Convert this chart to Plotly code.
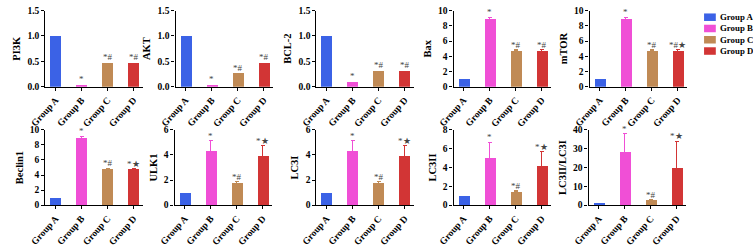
import plotly.graph_objects as go

W, H = 753, 247

groups = ["Group A", "Group B", "Group C", "Group D"]
colors = ["#3b62e6", "#f04fd6", "#c08a55", "#d23535"]

markers = ["PI3K", "AKT", "BCL-2", "Bax", "mTOR",
           "Beclin1", "ULK1", "LC3I", "LC3II", "LC3II/LC3I"]

pi3k = [1.0, 0.05, 0.48, 0.48]
akt = [1.0, 0.05, 0.27, 0.48]
bcl2 = [1.0, 0.10, 0.31, 0.32]
bax = [1.0, 8.9, 4.8, 4.75]
mtor = [1.0, 8.95, 4.8, 4.75]
beclin1 = [1.0, 8.95, 4.8, 4.75]
ulk1 = [1.0, 4.3, 1.78, 3.95]
lc3i = [1.0, 4.3, 1.78, 3.95]
lc3ii = [1.0, 5.0, 1.45, 4.2]
ratio = [1.0, 28.5, 2.5, 19.7]

err_pi3k = [0, 0.01, 0.01, 0.01]
err_akt = [0, 0.01, 0.01, 0.01]
err_bcl2 = [0, 0.01, 0.01, 0.01]
err_bax = [0, 0.2, 0.08, 0.08]
err_mtor = [0, 0.2, 0.08, 0.08]
err_beclin1 = [0, 0.2, 0.08, 0.1]
err_ulk1 = [0, 0.85, 0.1, 0.8]
err_lc3i = [0, 0.85, 0.1, 0.8]
err_lc3ii = [0, 1.7, 0.05, 1.45]
err_ratio = [0, 9.5, 0.3, 14.3]

sig_1 = ["", "*", "*#", "*#"]
sig_mtor = ["", "*", "*#", "*#★"]
sig_2 = ["", "*", "*#", "*★"]

panels = [
    ("PI3K", pi3k, err_pi3k, sig_1, 1.5, 0.5, ".1f"),
    ("AKT", akt, err_akt, sig_1, 1.5, 0.5, ".1f"),
    ("BCL-2", bcl2, err_bcl2, sig_1, 1.5, 0.5, ".1f"),
    ("Bax", bax, err_bax, sig_1, 10, 2, "d"),
    ("mTOR", mtor, err_mtor, sig_mtor, 10, 2, "d"),
    ("Beclin1", beclin1, err_beclin1, sig_2, 10, 2, "d"),
    ("ULK1", ulk1, err_ulk1, sig_2, 6, 2, "d"),
    ("LC3I", lc3i, err_lc3i, sig_2, 6, 2, "d"),
    ("LC3II", lc3ii, err_lc3ii, sig_2, 8, 2, "d"),
    ("LC3II/LC3I", ratio, err_ratio, sig_2, 40, 10, "d"),
]

left_px = [[30, 163, 307, 447, 586], [30, 162, 307, 447, 585]]
row_y = [(6, 87), (133, 213)]
axis_w = 100

FONT = "Liberation Serif"
fig = go.Figure()
layout = {}
annotations = []
shapes = []

for i, (name, vals, errs, sigs, top, dt, fmt) in enumerate(panels):
    r, c = divmod(i, 5)
    k = i + 1
    xa = "x" if k == 1 else f"x{k}"
    ya = "y" if k == 1 else f"y{k}"
    for g in range(4):
        fig.add_trace(go.Bar(
            x=[groups[g]], y=[vals[g]], name=groups[g],
            marker=dict(color=colors[g], line=dict(width=0)),
            width=0.42,
            error_y=dict(type="data", array=[errs[g]], visible=errs[g] > 0.02,
                         color=colors[g], thickness=1, width=2),
            xaxis=xa, yaxis=ya, showlegend=False, hoverinfo="skip",
        ))
        if sigs[g]:
            annotations.append(dict(
                x=groups[g], y=vals[g] + errs[g], xref=xa, yref=ya,
                text=sigs[g], showarrow=False, yanchor="bottom", yshift=-2,
                font=dict(family=FONT, size=9, color="#444"),
            ))
    x0 = left_px[r][c] / W
    x1 = (left_px[r][c] + axis_w) / W
    ytop, ybot = row_y[r]
    layout["xaxis" if k == 1 else f"xaxis{k}"] = dict(
        domain=[x0, x1], anchor=ya, type="category",
        range=[-0.39, 3.37], showline=True, linecolor="black", linewidth=1.3,
        ticks="outside", ticklen=3, tickwidth=1.2, tickcolor="black",
        tickangle=-48, showgrid=False, zeroline=False,
        tickfont=dict(family=FONT, size=9.5, color="black", weight="bold"),
    )
    layout["yaxis" if k == 1 else f"yaxis{k}"] = dict(
        domain=[1 - ybot / H, 1 - ytop / H], anchor=xa,
        range=[0, top], dtick=dt, tick0=0, tickformat=fmt,
        showline=True, linecolor="black", linewidth=1.3,
        ticks="outside", ticklen=3, tickwidth=1.2, tickcolor="black",
        showgrid=False, zeroline=False,
        tickfont=dict(family=FONT, size=9.5, color="black", weight="bold"),
        title=dict(text=name, standoff=4,
                   font=dict(family=FONT, size=10.5, color="black", weight="bold")),
    )

# legend drawn as swatches + labels at the right
leg_x0, leg_y0, leg_dy = 703, 13, 12
for g in range(4):
    cy = leg_y0 + g * leg_dy
    shapes.append(dict(type="rect", xref="paper", yref="paper",
                       x0=leg_x0 / W, x1=(leg_x0 + 12) / W,
                       y0=1 - (cy + 4) / H, y1=1 - (cy - 4) / H,
                       fillcolor=colors[g], line=dict(width=0)))
    annotations.append(dict(x=(leg_x0 + 14) / W, y=1 - cy / H, xref="paper", yref="paper",
                            xanchor="left", yanchor="middle", showarrow=False,
                            text=groups[g],
                            font=dict(family=FONT, size=8.8, color="black", weight="bold")))

fig.update_layout(
    width=W, height=H, margin=dict(l=0, r=0, t=0, b=0),
    paper_bgcolor="white", plot_bgcolor="white",
    barmode="overlay", bargap=0, showlegend=False, hovermode=False,
    annotations=annotations, shapes=shapes,
    **layout,
)

fig.write_html(
    "out.html",
    config={"displayModeBar": False},
    post_script="document.body.style.margin='0';document.body.style.overflow='hidden';",
)
